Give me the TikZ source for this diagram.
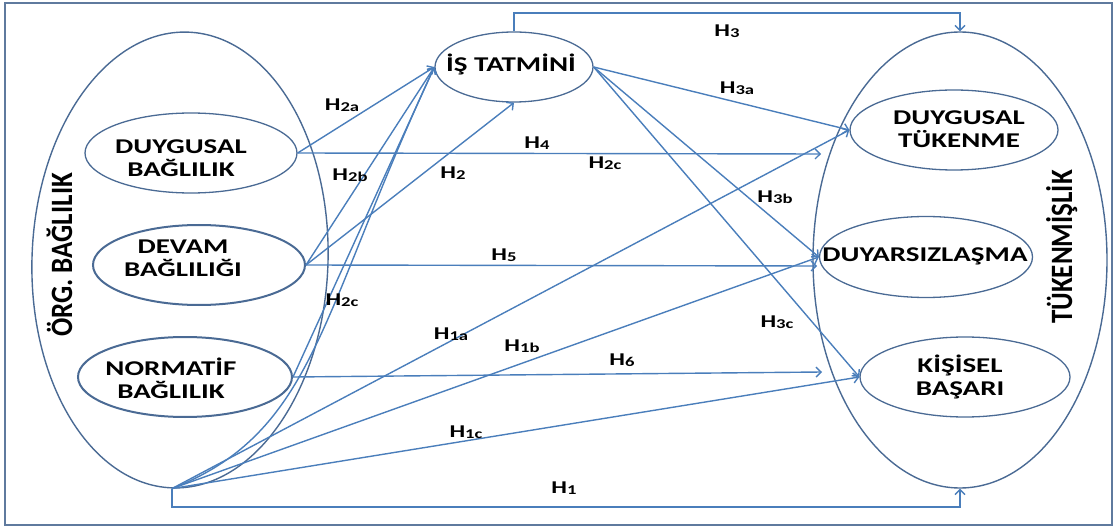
\documentclass[tikz,border=0pt]{standalone}
\usepackage{fontspec}
\setmainfont{Carlito}[FakeStretch=1.38]
\newfontfamily\rotfont{Carlito}
\usetikzlibrary{shapes.geometric,arrows.meta}
\definecolor{lineblue}{HTML}{4A7EBB}
\definecolor{ellblue}{HTML}{4A6A94}
\definecolor{framec}{HTML}{5F7A9E}
\newcommand{\hh}[1]{H{\fontsize{13.5}{13.5}\selectfont\raisebox{-0.8pt}{#1}}}
\begin{document}
\begin{tikzpicture}[x=1pt,y=-1pt,
  ell/.style={ellipse, draw=ellblue, line width=1.3pt, inner sep=0pt},
  ellthick/.style={ell, line width=2pt},
  bigell/.style={ellipse, draw=ellblue, line width=1.4pt, inner sep=0pt},
  boxtxt/.style={font=\fontsize{21}{23}\selectfont\bfseries, align=center, inner sep=0pt},
  rottxt/.style={font=\rotfont\fontsize{27}{27}\selectfont\bfseries, rotate=90, anchor=base, inner sep=0pt},
  hlab/.style={font=\fontsize{18}{18}\selectfont\bfseries, inner sep=0pt},
  conn/.style={draw=lineblue, line width=1.4pt},
  arr/.style={conn, -{Straight Barb[length=5pt,width=10pt]}},
]
\useasboundingbox (0,0) rectangle (1116,529);
\draw[framec, line width=2.4pt] (5,3) rectangle (1112,525);

% big ellipses
\node[bigell, minimum width=296, minimum height=456, rotate=-2] (org) at (180,260) {};
\node[bigell, minimum width=294, minimum height=456] (tuk) at (960,260) {};

% small ellipses
\node[ell, minimum width=212, minimum height=80] (dbag) at (191,153) {};
\node[ellthick, minimum width=212, minimum height=80] (dev) at (199,265) {};
\node[ellthick, minimum width=214, minimum height=80] (nor) at (185,377) {};
\node[ell, minimum width=158, minimum height=70] (ist) at (514,67) {};
\node[ell, minimum width=208, minimum height=80] (dtuk) at (954,130) {};
\node[ell, minimum width=213, minimum height=81] (dyar) at (926,257) {};
\node[ell, minimum width=210, minimum height=80] (kis) at (965,377) {};

% texts
\node[boxtxt] (dbagT) at (181,158) {DUYGUSAL\\BAĞLILIK};
\node[boxtxt] (devT) at (183,258) {DEVAM\\BAĞLILIĞI};
\node[boxtxt] (norT) at (171,378) {NORMATİF\\BAĞLILIK};
\node[boxtxt] (istT) at (511,64) {İŞ TATMİNİ};
\node[boxtxt] (dtukT) at (959,129) {DUYGUSAL\\TÜKENME};
\node[boxtxt] (dyarT) at (925,256) {DUYARSIZLAŞMA};
\node[boxtxt] (kisT) at (960,377) {KİŞİSEL\\BAŞARI};
\node[rottxt] (orgT) at (72,255) {\scalebox{1}[1.15]{ÖRG. BAĞLILIK}};
\node[rottxt] (tukT) at (1072,247) {\scalebox{1}[1.15]{TÜKENMİŞLİK}};

% helper coordinates
\coordinate (topline) at (0,13);
\coordinate (botline) at (0,507);
\coordinate (h4end) at (821,154);
\coordinate (h5end) at (817,266);
\coordinate (h6end) at (822,372);

% H3 and H1 elbow connectors
\draw[arr] (ist.north) -- (ist.north |- topline) -| (tuk.north);
\draw[arr] (org.south) -- (org.south |- botline) -| (tuk.south);

% into İŞ TATMİNİ
\draw[arr] (dbag.east) -- (ist.west);
\draw[arr] (dev.east) -- (ist.west);
\draw[arr] (nor.east) -- (ist.west);
\draw[arr] (org.south) .. controls (315,432) and (318,318) .. (ist.west);
\draw[arr] (dev.east) -- (ist.south);

% horizontal ones
\draw[arr] (dbag.east) -- (h4end);
\draw[arr] (dev.east) -- (h5end);
\draw[arr] (nor.east) -- (h6end);

% from İŞ TATMİNİ
\draw[arr] (ist.east) -- (dtuk.west);
\draw[arr] (ist.east) -- (dyar.west);
\draw[arr] (ist.east) -- (kis.west);

% fan from bottom
\draw[arr] (org.south) -- (dtuk.west);
\draw[arr] (org.south) -- (dyar.west);
\draw[arr] (org.south) -- (kis.west);

% labels
\node[hlab] (l3) at (727,31) {\hh{3}};
\node[hlab] (l3a) at (737,88) {\hh{3a}};
\node[hlab] (l2a) at (342,105) {\hh{2a}};
\node[hlab] (l4) at (537,143) {\hh{4}};
\node[hlab] (l2cA) at (605,163) {\hh{2c}};
\node[hlab] (l2b) at (350,175) {\hh{2b}};
\node[hlab] (l2) at (453,173) {\hh{2}};
\node[hlab] (l3b) at (775,197) {\hh{3b}};
\node[hlab] (l5) at (504,255) {\hh{5}};
\node[hlab] (l2cB) at (342,300) {\hh{2c}};
\node[hlab] (l3c) at (777,322) {\hh{3c}};
\node[hlab] (l1a) at (451,334) {\hh{1a}};
\node[hlab] (l1b) at (522,346) {\hh{1b}};
\node[hlab] (l6) at (622,360) {\hh{6}};
\node[hlab] (l1c) at (466,432) {\hh{1c}};
\node[hlab] (l1) at (564,488) {\hh{1}};
\end{tikzpicture}
\end{document}
